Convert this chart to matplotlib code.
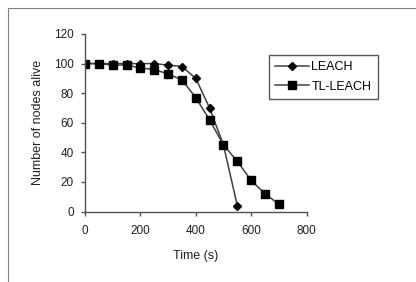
import matplotlib.pyplot as plt
from matplotlib.patches import Rectangle

plt.rcParams['font.family'] = ['Liberation Sans', 'DejaVu Sans']

time_leach = [0, 50, 100, 150, 200, 250, 300, 350, 400, 450, 500, 550]
alive_leach = [100, 100, 100, 100, 100, 100, 99, 98, 90, 70, 45, 4]

time_tl = [0, 50, 100, 150, 200, 250, 300, 350, 400, 450, 500, 550, 600, 650, 700]
alive_tl = [100, 100, 99, 99, 97, 96, 93, 89, 77, 62, 45, 34, 21, 12, 5]

x_ticks = [0, 200, 400, 600, 800]
y_ticks = [0, 20, 40, 60, 80, 100, 120]

fig = plt.figure(figsize=(4.16, 2.82), dpi=100)
# outer frame (only top/left edges visible in the crop)
fig.patches.append(Rectangle((8 / 416, -0.1), 1.2, 1 - 8 / 282 + 0.1,
                             transform=fig.transFigure, fill=False,
                             edgecolor='#808080', linewidth=0.8))

ax = fig.add_axes([85 / 416, 1 - 211.5 / 282, 221.5 / 416, 177.5 / 282])
ax.plot(time_leach, alive_leach, color='#404040', linewidth=1.1,
        marker='D', markersize=3.8, markerfacecolor='black',
        markeredgecolor='black', label='LEACH')
ax.plot(time_tl, alive_tl, color='#404040', linewidth=1.1,
        marker='s', markersize=5.4, markerfacecolor='black',
        markeredgecolor='black', label='TL-LEACH')

ax.set_xlim(0, 800)
ax.set_ylim(0, 120)
ax.set_xticks(x_ticks)
ax.set_yticks(y_ticks)
ax.spines['top'].set_visible(False)
ax.spines['right'].set_visible(False)
for s in ('left', 'bottom'):
    ax.spines[s].set_color('#505050')
    ax.spines[s].set_linewidth(1.0)
ax.tick_params(axis='x', pad=7)
ax.tick_params(axis='y', pad=5)
ax.tick_params(direction='out', length=3, width=1.0, color='#505050',
               labelsize=8.5, labelcolor='#202020')
ax.set_xlabel('Time (s)', fontsize=9, color='#202020', labelpad=9)
ax.set_ylabel('Number of nodes alive', fontsize=9, color='#202020', labelpad=7)

leg = ax.legend(loc='upper left', bbox_to_anchor=(269 / 416, 1 - 55 / 282),
                bbox_transform=fig.transFigure, fancybox=False, frameon=True,
                edgecolor='#303030', fontsize=9, handlelength=2.7,
                borderpad=0.5, labelspacing=0.6, handletextpad=0.2,
                borderaxespad=0)
leg.get_frame().set_linewidth(1.0)

fig.savefig('out.png', dpi=100)
